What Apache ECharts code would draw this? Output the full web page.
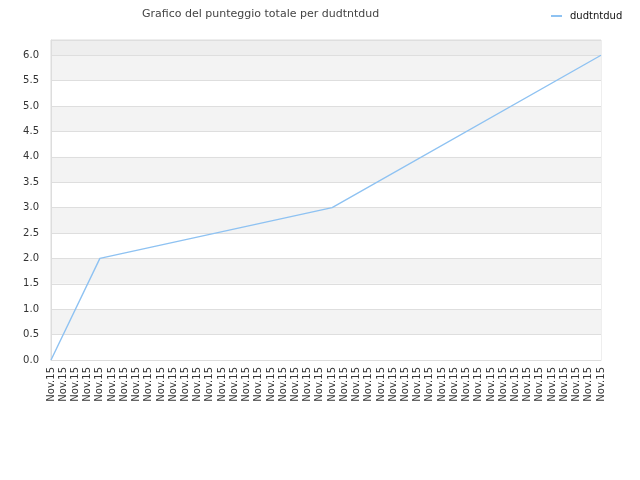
<!DOCTYPE html>
<html>
<head>
<meta charset="utf-8">
<script src="https://cdn.jsdelivr.net/npm/echarts@6/dist/echarts.min.js"></script>
<style>html,body{margin:0;padding:0;background:#fff}#c{width:640px;height:480px}</style>
</head>
<body>
<div id="c"></div>
<script>
const titleText = "Grafico del punteggio totale per dudtntdud";
const seriesName = "dudtntdud";
const categories = Array(46).fill("Nov.15");
// known values at indices; other points lie on straight segments (null + connectNulls)
const knownIndex = [0, 4, 23, 45];
const knownValue = [0, 2, 3, 6];
const yTicks = { min: 0, max: 6.3, interval: 0.5 };

const values = categories.map(() => null);
knownIndex.forEach((idx, i) => { values[idx] = knownValue[i]; });

const bands = [];
for (let i = 0; i < 12; i++) bands.push(i % 2 === 0 ? '#ffffff' : '#f3f3f3');
bands.push('#eeeeee');

const chart = echarts.init(document.getElementById('c'));
chart.setOption({
  animation: false,
  backgroundColor: '#ffffff',
  textStyle: { fontFamily: 'DejaVu Sans' },
  title: {
    text: titleText,
    left: 137, top: 4,
    textStyle: { fontSize: 11, fontWeight: 'normal', color: '#444', fontFamily: 'DejaVu Sans' }
  },
  legend: {
    data: [seriesName],
    left: 546, top: 6,
    icon: 'rect', itemWidth: 11, itemHeight: 2,
    textStyle: { fontSize: 10, color: '#111', padding: [0, 0, 0, 3], fontFamily: 'DejaVu Sans' }
  },
  grid: {
    left: 51, right: 39, top: 40, bottom: 120,
    show: true, borderColor: '#dddddd', borderWidth: 1, backgroundColor: 'transparent'
  },
  xAxis: {
    type: 'category',
    data: categories,
    boundaryGap: false,
    axisLine: { lineStyle: { color: '#dddddd' } },
    axisTick: { show: false },
    axisLabel: { rotate: 90, interval: 0, fontSize: 10, color: '#333', margin: 7, fontFamily: 'DejaVu Sans' },
    splitLine: { show: false }
  },
  yAxis: {
    type: 'value',
    min: yTicks.min, max: yTicks.max, interval: yTicks.interval,
    axisLine: { show: true, lineStyle: { color: '#dddddd' } },
    axisTick: { show: false },
    axisLabel: { fontSize: 10, color: '#333', margin: 12, showMaxLabel: false,
      formatter: v => v.toFixed(1), fontFamily: 'DejaVu Sans' },
    splitLine: { show: true, lineStyle: { color: '#dedede' } },
    splitArea: { show: true, areaStyle: { color: bands } }
  },
  series: [{
    name: seriesName,
    type: 'line',
    data: values,
    connectNulls: true,
    showSymbol: false,
    symbol: 'none',
    lineStyle: { width: 1.4, color: '#8ec2f2' },
    itemStyle: { color: '#8ec2f2' }
  }]
});
</script>
</body>
</html>
